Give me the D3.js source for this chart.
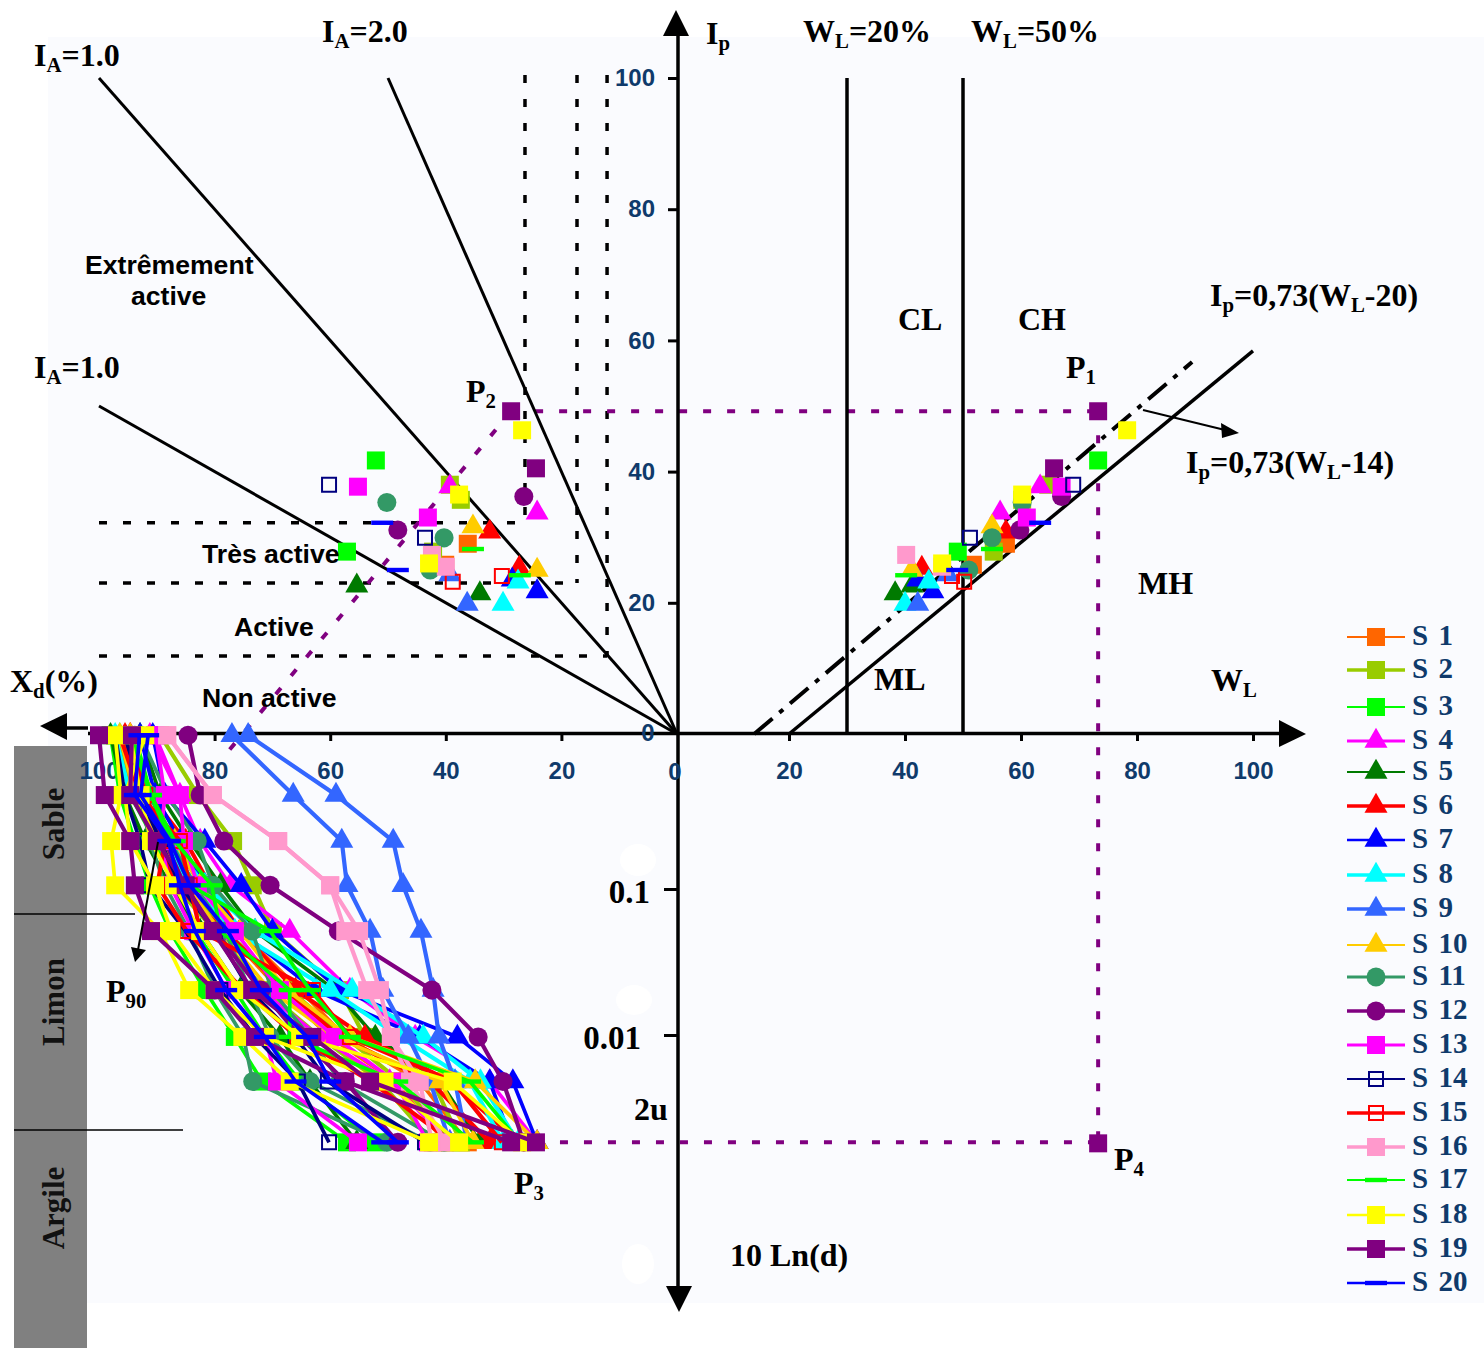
<!DOCTYPE html>
<html><head><meta charset="utf-8">
<script src="https://cdnjs.cloudflare.com/ajax/libs/d3/7.8.5/d3.min.js"></script>
<style>html,body{margin:0;padding:0;background:#fff}svg{display:block}</style>
</head><body><svg id="c" width="1484" height="1348"></svg>
<script>
// ---------- categories and ticks
const seriesNames = ["S 1","S 2","S 3","S 4","S 5","S 6","S 7","S 8","S 9","S 10","S 11","S 12","S 13","S 14","S 15","S 16","S 17","S 18","S 19","S 20"];
const grainSizes = [1.13,0.44,0.213,0.106,0.0515,0.0203,0.0097,0.0048,0.00184];
const ipTicks = [20,40,60,80,100];
const wlTicks = [20,40,60,80,100];
const clayTicks = [20,40,60,80,100];
const grainTicks = [0.1,0.01];
const grainTickLabels = ["0.1","0.01"];
// ---------- percent passing at each grain size, one list per sample
const passingS1 = [[96.4,92.9,86.9,82.5,75.6,65.2,57.4,44.5,36.2],[97.2,93.8,89.4,85,78.2,68.7,60,48.8,40.1]];
const passingS2 = [[89.4,82.9,76.8,73.4,69.9,58.3,54,42.2,37.4],[95.5,92.9,88.6,84.3,78.2,67,57.4,47.9,39.3],[96.4,93.8,90.3,86.9,79.9,71.3,61.8,51.4,42.2]];
const passingS3 = [[98,96.4,93.8,91.2,87.7,81.7,76.5,71.8,57.1],[97.2,94.6,90.3,86.9,83.4,76.5,71.3,65.2,52.1]];
const passingS4 = [[94.6,92,88.6,84.3,80,72,61.8,49.7,39.3],[91.2,86,82.5,77.3,67,56.6,45.3,32.4,24.2]];
const passingS5 = [[98,95.5,92,87.7,82.5,75.6,68.7,63.5,55.4],[92.9,89.4,84.3,79,73,59.2,52.2,41,34.1]];
const passingS6 = [[95.5,92.9,89.4,86.9,78.2,67.8,58.3,42.7,32.4],[94.6,91.2,85,80.8,75.6,66,54,39.3,27.3]];
const passingS7 = [[90.7,88.6,81.7,75.4,70,58.3,38,28.4,24.2],[92.9,90.3,86,81.7,75.6,62.6,44.5,32.4,28.5]];
const passingS8 = [[96.4,92.9,87.7,81.7,73,56.2,43.9,34,27.5],[97.2,94.6,88.6,84.3,76.5,60,47.9,35.8,30.1]];
const passingS9 = [[77,66.4,58,57.1,53.1,50.9,46.5,42.7,39.3],[74.2,59,49.1,47.4,44.3,42.2,41.2,38.4,36.3]];
const passingS10 = [[96.4,93.8,89.4,85,79,70.4,59.2,41,35.3],[94.6,91.2,86.9,82.5,75.6,67.5,56.6,34.9,24.2]];
const passingS11 = [[93.8,92.9,91.2,88.6,84.4,80,75,73.4,50.2],[92.9,88.2,83,80.3,73.5,70.1,63.5,58.3,40.3],[94.6,91.2,87.7,83.4,78.2,73.9,70.4,63.5,42.7]];
const passingS12 = [[95.5,92.9,88.6,85.2,79.9,72,65.2,57.4,48.3],[84.6,82.5,78.4,70.4,58.6,42.4,34.4,30.1,26.5]];
const passingS13 = [[90.2,88.6,89.4,87.7,83.7,77.9,71.3,69.2,55.2],[90.3,86,85.3,82.9,76.5,68.7,59.2,48.8,43.1]];
const passingS14 = [[97.2,95.5,92.9,91.2,85,79,73,65.6,60.2],[95.5,92.9,89.4,86,80,73.9,66,60.4,43.6]];
const passingS15 = [[94.6,92,88.6,89.9,84.8,75,65.7,53,38.8],[96.4,92.9,86,84.3,82.5,63,56.6,38.8,30.3]];
const passingS16 = [[88.2,80.3,69,60,55,51.4,49.5,46.2,40],[88.2,80.3,69,60,57.4,53.6,49.5,44.5,42.4]];
const passingS17 = [[93.8,91,86.9,80.5,79,67,67,48.4,35.3],[94.6,91,87.7,84.3,70.4,63.5,56.6,35.8,27.2]];
const passingS18 = [[97.2,96.2,97.9,97.2,89.4,84.4,75.2,67,42.9],[92,95.5,94.6,90.3,87.5,80,71.3,50.6,37.7],[94.6,92.8,91,87,82.5,75.6,65.2,38.8,26.8]];
const passingS19 = [[100,99,94.6,93.8,91,80,73,57.4,28.7],[94.3,94.6,90,85,80.3,73.5,63.1,53.1,24.4]];
const passingS20 = [[93,93.8,88,86,83.4,78,71.3,66,51],[91.5,92.8,87.7,84.3,77.7,72,64,60,48.3]];
const passingAll = [passingS1,passingS2,passingS3,passingS4,passingS5,passingS6,passingS7,passingS8,passingS9,passingS10,passingS11,passingS12,passingS13,passingS14,passingS15,passingS16,passingS17,passingS18,passingS19,passingS20];
// ---------- liquid limit and plasticity index, per sample
const liquidLimit = [[57.4,51.7],[60.2,64.7,55.3],[49.1,73.3],[63.3,56.4],[41.2,38.3],[57.4,42.9],[44.8,42.2],[44.1,40],[47.4,42.2],[55,41.2],[60.2,55,51],[59.8,67],[67,61],[69,51.2],[50.2,48.1],[46.4,40.2],[55,40.2],[46.4,60.2,78.3],[73.3,65.7],[63.3,49]];
const plasticityIndex = [[29,25.8],[35.7,38,27.8],[27.8,41.7],[37.7,33.7],[22.6,21.4],[30.8,25.3],[21.7,23.5],[23.2,19.8],[24.3,19.8],[31.6,25],[35.3,29.9,25],[31.1,36.2],[37.7,33],[38,29.9],[23.2,24.1],[25.5,27.3],[28.2,24.2],[26,36.5,46.3],[49.2,40.5],[32.2,25]];
// ---------- reference lines
const wlVerticals = [30,50];
const activityLines = [[100,100],[50,100],[100,50]];
const activityVerticals = [[26.3,32.2],[17.3,23],[12.1,11.9]];
const aLine = [[20,0],[100,58.4]];
const uLine = [[14,0],[89.5,56.7]];
// ---------- styles
const colors = ["#FF6600","#99CC00","#00FF00","#FF00FF","#007A00","#FF0000","#0000FF","#00FFFF","#3366FF","#FFCC00","#339966","#800080","#FF00FF","#000080","#FF0000","#FF99CC","#00FF00","#FFFF00","#800080","#0000FF"];
const shapes = ["sq","sq","sq","tri","tri","tri","tri","tri","tri","tri","cir","cir","sq","box","box","sq","dash","sq","sq","dash"];
const widths = [2,3.5,2,3,2,3.5,2.5,3.5,3.5,2,3,3.5,3,2,3.5,3.5,2,2.5,3.5,2.5];
const legendRows = [637,670,707,741,772,806,840,875,909,945,977,1011,1045,1079,1113,1147,1180,1215,1249,1283];

const svg = d3.select("#c");
const xW = d3.scaleLinear().domain([0,100]).range([673,1253]);
const xClay = d3.scaleLinear().domain([0,100]).range([677,99]);
const yIp = d3.scaleLinear().domain([0,100]).range([734,78]);
const yD = d3.scaleLog().domain([0.1,0.01]).range([889,1035]);
const SERIF = "'Liberation Serif','Times New Roman',serif", SANS = "'Liberation Sans',Arial,sans-serif";

svg.append("rect").attr("x",48).attr("y",37).attr("width",1436).attr("height",1266).attr("fill","#FAFBFE");
[[638,860,18,16],[634,1000,18,15],[638,1264,16,20]].forEach(b=>{
  svg.append("ellipse").attr("cx",b[0]).attr("cy",b[1]).attr("rx",b[2]).attr("ry",b[3]).attr("fill","#fff");
});

// Grey soil band
svg.append("rect").attr("x",14).attr("y",746).attr("width",73).attr("height",602).attr("fill","#808080");
[[914,135],[1130,183]].forEach(d=>svg.append("line").attr("x1",14).attr("x2",d[1]).attr("y1",d[0]).attr("y2",d[0]).attr("stroke","#000").attr("stroke-width",1.5));
[["Sable",824],["Limon",1002],["Argile",1208]].forEach(d=>{
  svg.append("text").attr("transform",`translate(64,${d[1]}) rotate(-90)`).attr("text-anchor","middle")
    .attr("font-family",SERIF).attr("font-weight","bold").attr("font-size",31).attr("fill","#111").text(d[0]);
});

// Guides
const guides = svg.append("g").attr("fill","none");
const DOT = "8 16";
activityVerticals.forEach(d=>{
  guides.append("line").attr("x1",xClay(d[0])).attr("x2",xClay(d[0])).attr("y1",75).attr("y2",yIp(d[1]))
    .attr("stroke","#000").attr("stroke-width",3.5).attr("stroke-dasharray",DOT);
  guides.append("line").attr("x1",xClay(100)).attr("x2",xClay(d[0])).attr("y1",yIp(d[1])).attr("y2",yIp(d[1]))
    .attr("stroke","#000").attr("stroke-width",3.5).attr("stroke-dasharray",DOT);
});
const p1 = {wl:liquidLimit[18][0], ip:plasticityIndex[18][0], clay:passingS19[0][8]};
const p3clay = passingS19[1][8], yClay = yD(grainSizes[8]);
const purple = (x1,y1,x2,y2)=>guides.append("line").attr("x1",x1).attr("y1",y1).attr("x2",x2).attr("y2",y2)
  .attr("stroke","#800080").attr("stroke-width",4).attr("stroke-dasharray",DOT);
purple(xClay(p1.clay),yIp(p1.ip),xW(p1.wl),yIp(p1.ip));
purple(xW(p1.wl),yIp(p1.ip),xW(p1.wl),yClay);
purple(xClay(p3clay),yClay,xW(p1.wl),yClay);
purple(xClay(p1.clay),yIp(p1.ip),xClay(77.7),yIp(-2.7));

activityLines.forEach(d=>{
  guides.append("line").attr("x1",xClay(0)).attr("y1",yIp(0)).attr("x2",xClay(d[0])).attr("y2",yIp(d[1]))
    .attr("stroke","#000").attr("stroke-width",3);
});
wlVerticals.forEach(w=>guides.append("line").attr("x1",xW(w)).attr("x2",xW(w)).attr("y1",yIp(100)).attr("y2",yIp(0)).attr("stroke","#000").attr("stroke-width",3.5));
guides.append("line").attr("x1",xW(aLine[0][0])).attr("y1",yIp(aLine[0][1])).attr("x2",xW(aLine[1][0])).attr("y2",yIp(aLine[1][1])).attr("stroke","#000").attr("stroke-width",3.5);
guides.append("line").attr("x1",xW(uLine[0][0])).attr("y1",yIp(uLine[0][1])).attr("x2",xW(uLine[1][0])).attr("y2",yIp(uLine[1][1])).attr("stroke","#000").attr("stroke-width",4).attr("stroke-dasharray","24 9 5 9");

// Axes lines and arrows
const ax = svg.append("g");
[[88,728,66,728],[88,733.5,1285,733.5],[678,30,678,1290]].forEach(l=>ax.append("line").attr("x1",l[0]).attr("y1",l[1]).attr("x2",l[2]).attr("y2",l[3]).attr("stroke","#000").attr("stroke-width",3.5));
[["40,726 67,713 67,740"],["1306,734 1279,720 1279,747"],["676,10 663,36 689,36"],["679,1312 666,1286 692,1286"]].forEach(p=>ax.append("polygon").attr("points",p[0]).attr("fill","#000"));
function styleAxis(g){
  g.select(".domain").remove();
  g.selectAll(".tick line").attr("stroke","#000").attr("stroke-width",3);
  g.selectAll(".tick text").attr("font-family",SANS).attr("font-weight","bold").attr("font-size",24).attr("fill","#0F3A6B");
}
ax.append("g").attr("transform","translate(0,733)")
  .call(d3.axisBottom(xClay).tickValues(clayTicks).tickSize(8).tickPadding(21).tickFormat(d3.format("d"))).call(styleAxis);
ax.append("g").attr("transform","translate(0,733)")
  .call(d3.axisBottom(xW).tickValues(wlTicks).tickSize(8).tickPadding(21).tickFormat(d3.format("d"))).call(styleAxis);
ax.append("g").attr("transform","translate(678,0)")
  .call(d3.axisLeft(yIp).tickValues(ipTicks).tickSize(10).tickPadding(13).tickFormat(d3.format("d"))).call(styleAxis);
const zeroStyle = s=>s.attr("font-family",SANS).attr("font-weight","bold").attr("font-size",24).attr("fill","#0F3A6B").attr("text-anchor","middle").text("0");
svg.append("text").attr("x",xClay(0)-2).attr("y",780).call(zeroStyle);
svg.append("text").attr("x",648).attr("y",741).call(zeroStyle);
ax.append("g").attr("transform","translate(678,0)")
  .call(d3.axisLeft(yD).tickValues(grainTicks).tickSize(14).tickPadding(28).tickFormat((d,i)=>grainTickLabels[i]))
  .call(styleAxis).call(g=>g.selectAll(".tick text").attr("font-family",SERIF).attr("font-size",33).attr("fill","#000").attr("dy","0.4em")
    .attr("x",(d,i)=>i===0?-28:-37));

// Markers
const dashSymbol = {draw(ctx,size){ctx.rect(-11,-2.2,22,4.4);}};
function marker(sel,shape,color,x,y){
  const gen = {sq:[d3.symbolSquare,324],tri:[d3.symbolTriangle,230],cir:[d3.symbolCircle,285],box:[d3.symbolSquare,196],dash:[dashSymbol,1]}[shape];
  const p = sel.append("path").attr("d",d3.symbol().type(gen[0]).size(gen[1])()).attr("transform",`translate(${x},${y})`);
  if(shape==="box") p.attr("fill","none").attr("stroke",color).attr("stroke-width",2);
  else p.attr("fill",color);
}
const lineGen = d3.line().x(d=>xClay(d.p)).y(d=>yD(d.d));
const marks = svg.append("g");
seriesNames.forEach((name,i)=>{
  const g = marks.append("g");
  passingAll[i].forEach((curve,j)=>{
    const pts = curve.map((p,k)=>({p,d:grainSizes[k]}));
    g.append("path").attr("d",lineGen(pts)).attr("fill","none").attr("stroke",colors[i]).attr("stroke-width",Math.max(widths[i],3)+0.7);
    pts.forEach(q=>marker(g,shapes[i],colors[i],xClay(q.p),yD(q.d)));
    marker(g,shapes[i],colors[i],xClay(curve[8]),yIp(plasticityIndex[i][j]));
    marker(g,shapes[i],colors[i],xW(liquidLimit[i][j]),yIp(plasticityIndex[i][j]));
  });
});
marker(marks,"sq","#800080",xW(p1.wl),yClay+1);

// Legend
const lg = svg.append("g");
seriesNames.forEach((name,i)=>{
  const y = legendRows[i];
  lg.append("line").attr("x1",1347).attr("x2",1405).attr("y1",y).attr("y2",y).attr("stroke",colors[i]).attr("stroke-width",widths[i]);
  marker(lg,shapes[i],colors[i],1376,y);
  lg.append("text").attr("x",1412).attr("y",y+8).attr("font-family",SERIF).attr("font-weight","bold").attr("font-size",29).attr("word-spacing",3).attr("fill","#0F3A6B").text(name);
});

// Annotations
function rich(x,y,parts,size){
  const t = svg.append("text").attr("x",x).attr("y",y).attr("font-family",SERIF).attr("font-weight","bold").attr("font-size",size||32).attr("fill","#000");
  let sub=false;
  parts.forEach((s,i)=>{
    const isSub = i%2===1, tsp=t.append("tspan").text(s);
    if(isSub){tsp.attr("font-size",(size||32)*0.65).attr("dy",6);sub=true;}
    else if(sub){tsp.attr("dy",-6);sub=false;}
  });
}
rich(34,66,["I","A","=1.0"]);
rich(34,378,["I","A","=1.0"]);
rich(322,42,["I","A","=2.0"]);
rich(706,44,["I","p"]);
rich(803,42,["W","L","=20%"]);
rich(971,42,["W","L","=50%"]);
rich(1210,306,["I","p","=0,73(W","L","-20)"]);
rich(1186,473,["I","p","=0,73(W","L","-14)"]);
rich(898,330,["CL"]); rich(1018,330,["CH"]);
rich(1066,378,["P","1"]); rich(466,402,["P","2"]);
rich(1138,594,["MH"]); rich(874,690,["ML"]);
rich(1211,691,["W","L"]); rich(10,692,["X","d","(%)"]);
rich(106,1002,["P","90"]); rich(514,1194,["P","3"]); rich(1114,1170,["P","4"]);
rich(730,1266,["10 Ln(d)"]); rich(634,1120,["2u"]);
[["Extrêmement",85,274],["active",131,305],["Très active",202,563],["Active",234,636],["Non active",202,707]].forEach(d=>{
  svg.append("text").attr("x",d[1]).attr("y",d[2]).attr("font-family",SANS).attr("font-weight","bold").attr("font-size",26.6).attr("fill","#000").text(d[0]);
});
// Pointer arrows
svg.append("line").attr("x1",1143).attr("y1",410).attr("x2",1225).attr("y2",430).attr("stroke","#000").attr("stroke-width",2);
svg.append("polygon").attr("points","1239,433 1221,423 1222,438").attr("fill","#000");
svg.append("line").attr("x1",158).attr("y1",842).attr("x2",138).attr("y2",950).attr("stroke","#000").attr("stroke-width",2);
svg.append("polygon").attr("points","135,962 131,947 146,950").attr("fill","#000");
</script></body></html>
